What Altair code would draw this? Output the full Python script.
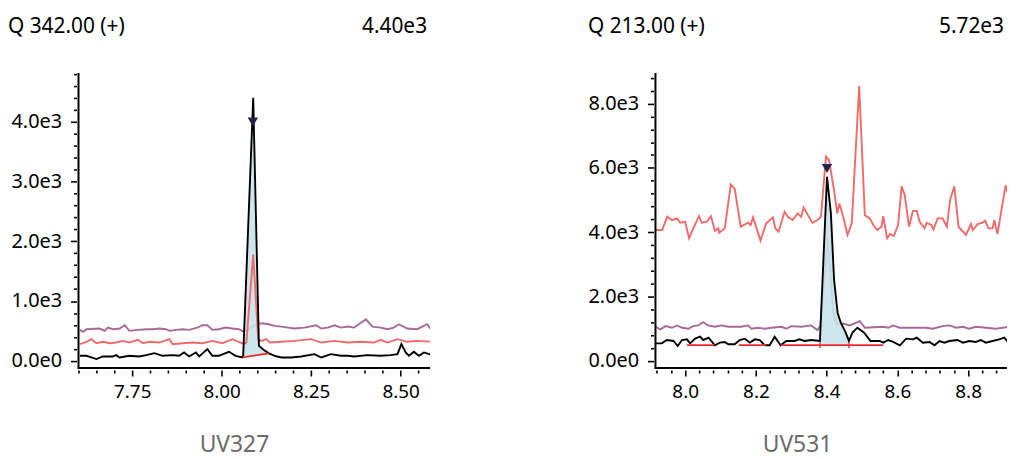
import altair as alt
import pandas as pd
import numpy as np

FONT = "Noto Sans"
W, H = 354, 297

# ---------------- Left panel (UV327) ----------------
L_title = "Q 342.00 (+)"
L_max = "4.40e3"
L_name = "UV327"
L_purple = [(7.604,518),(7.613,484),(7.622,529),(7.659,540),(7.673,501),(7.682,556),(7.696,529),
            (7.715,540),(7.729,595),(7.742,501),(7.766,518),(7.789,529),(7.807,529),(7.826,540),
            (7.844,529),(7.854,501),(7.872,518),(7.891,529),(7.909,518),(7.932,556),(7.946,595),
            (7.960,595),(7.974,518),(7.992,529),(8.011,556),(8.030,540),(8.048,529),(8.062,484),
            (8.080,560),(8.100,610),(8.111,629),(8.130,612),(8.148,584),(8.167,573),(8.185,556),
            (8.204,540),(8.231,556),(8.264,595),(8.278,540),(8.296,556),(8.315,595),(8.333,556),
            (8.352,573),(8.370,556),(8.403,695),(8.421,573),(8.444,556),(8.463,529),(8.481,556),
            (8.495,612),(8.518,540),(8.546,529),(8.574,612),(8.588,501)]
L_red = [(7.604,279),(7.622,318),(7.636,362),(7.650,295),(7.668,318),(7.687,295),(7.705,306),
         (7.724,334),(7.742,306),(7.766,351),(7.780,295),(7.798,318),(7.826,306),(7.854,362),
         (7.863,279),(7.891,295),(7.918,306),(7.946,295),(7.974,334),(8.002,295),(8.030,362),
         (8.048,318),(8.062,279),(8.069,306),(8.088,1778),(8.102,362),(8.111,334),(8.125,362),
         (8.134,306),(8.167,318),(8.204,334),(8.250,362),(8.278,306),(8.315,334),(8.352,306),
         (8.389,318),(8.426,306),(8.444,351),(8.463,306),(8.491,362),(8.518,318),(8.546,334),
         (8.592,318)]
L_black = [(7.604,84),(7.622,84),(7.636,56),(7.650,29),(7.668,73),(7.696,73),(7.705,95),(7.715,56),
           (7.742,84),(7.770,73),(7.789,95),(7.812,129),(7.835,84),(7.863,95),(7.881,84),(7.895,140),
           (7.909,73),(7.928,140),(7.937,73),(7.960,195),(7.974,84),(7.992,84),(8.020,151),(8.039,84),
           (8.057,56),(8.060,83),(8.088,4400),(8.104,250),(8.118,180),(8.132,125),(8.148,84),
           (8.167,56),(8.194,56),(8.222,73),(8.259,112),(8.278,56),(8.305,112),(8.333,84),(8.352,84),
           (8.370,73),(8.407,95),(8.444,84),(8.472,95),(8.491,112),(8.502,279),(8.514,140),(8.523,84),
           (8.537,151),(8.551,84),(8.565,140),(8.588,95)]
L_baseline = [(8.058, 57, 8.132, 125)]
L_junctions = []
L_marker = [(8.087, 3995)]
L_xdom = [7.600, 8.582]
L_ydom = [-121, 4812]
L_xticks = [round(7.60 + 0.05 * i, 2) for i in range(20)]
L_yticks = [200 * i for i in range(25)]

# ---------------- Right panel (UV531) ----------------
R_title = "Q 213.00 (+)"
R_max = "5.72e3"
R_name = "UV531"
R_purple = [(7.916,1059),(7.930,977),(7.944,1080),(7.963,1029),(7.977,1101),(7.991,1029),(8.009,998),
            (8.023,1080),(8.037,1101),(8.051,1204),(8.065,1101),(8.084,1059),(8.103,1101),(8.122,1059),
            (8.159,1059),(8.178,1101),(8.187,998),(8.206,1029),(8.225,998),(8.243,1029),(8.272,1059),
            (8.286,998),(8.300,1080),(8.328,1059),(8.356,1101),(8.374,956),(8.382,1080),(8.403,3800),
            (8.419,1500),(8.429,1132),(8.438,1183),(8.466,1101),(8.494,1235),(8.508,1029),(8.560,1059),
            (8.574,1029),(8.588,1101),(8.607,1029),(8.682,1029),(8.700,998),(8.728,1080),(8.747,1101),
            (8.766,1029),(8.785,1059),(8.803,998),(8.822,1059),(8.850,1029),(8.878,998),(8.916,1059)]
R_red = [(7.916,4068),(7.935,4068),(7.949,4479),(7.963,4377),(7.977,4430),(7.986,4294),(8.000,4325),
         (8.011,3812),(8.023,4120),(8.039,4500),(8.047,4294),(8.061,4325),(8.073,4500),(8.084,4047),
         (8.094,4120),(8.096,3985),(8.112,4120),(8.129,5489),(8.140,5356),(8.157,4170),(8.178,4294),
         (8.185,4223),(8.192,4460),(8.213,3738),(8.229,4275),(8.248,4460),(8.255,4120),(8.264,4016),
         (8.281,4634),(8.290,4479),(8.304,4377),(8.318,4584),(8.328,4479),(8.335,4769),(8.354,4399),
         (8.360,4294),(8.374,4377),(8.384,4479),(8.398,6354),(8.407,6230),(8.421,5304),(8.430,4584),
         (8.436,4893),(8.448,4430),(8.459,3914),(8.471,4275),(8.492,8547),(8.508,4532),(8.522,4430),
         (8.532,4223),(8.543,4068),(8.555,4170),(8.560,4500),(8.571,3812),(8.579,3945),(8.590,3883),
         (8.602,4223),(8.612,5427),(8.621,5149),(8.633,4170),(8.644,4665),(8.655,4665),(8.663,4325),
         (8.677,4120),(8.683,4294),(8.696,4223),(8.702,4089),(8.714,4430),(8.728,4430),(8.740,4170),
         (8.749,4995),(8.761,5427),(8.773,4170),(8.794,3914),(8.808,4254),(8.813,4068),(8.827,4254),
         (8.841,4294),(8.848,4356),(8.858,4120),(8.869,4120),(8.874,4377),(8.883,3945),(8.906,5458),
         (8.916,5047)]
R_black = [(7.916,544),(7.934,544),(7.948,647),(7.967,617),(7.979,462),(7.991,647),(8.005,668),
           (8.014,544),(8.028,689),(8.042,750),(8.051,647),(8.066,720),(8.084,483),(8.098,565),
           (8.112,586),(8.122,514),(8.140,514),(8.154,647),(8.169,689),(8.183,565),(8.197,668),
           (8.211,647),(8.225,483),(8.239,483),(8.253,750),(8.270,483),(8.286,617),(8.309,617),
           (8.323,668),(8.337,617),(8.356,647),(8.381,617),(8.401,5720),(8.412,4584),(8.421,2524),
           (8.431,1495),(8.440,1186),(8.454,877),(8.463,618),(8.473,877),(8.487,1032),(8.506,877),
           (8.524,618),(8.550,617),(8.560,565),(8.574,647),(8.588,586),(8.607,483),(8.625,689),
           (8.644,668),(8.655,720),(8.672,565),(8.691,586),(8.705,483),(8.719,617),(8.733,565),
           (8.747,617),(8.770,647),(8.785,565),(8.803,617),(8.822,586),(8.836,647),(8.850,565),
           (8.869,617),(8.888,668),(8.902,720),(8.916,544)]
R_baseline = [(8.005,485,8.082,485),(8.152,485,8.229,485),(8.270,485,8.381,485),
              (8.381,485,8.463,485),(8.463,485,8.560,485)]
R_junctions = [(8.381,485),(8.463,485)]
R_marker = [(8.401, 5983)]
R_xdom = [7.916, 8.910]
R_ydom = [-225, 8948]
R_xticks = [round(7.92 + 0.04 * i, 2) for i in range(25)]
R_yticks = [400 * i for i in range(23)]

C_PURPLE = "#a7699a"
C_RED = "#f06a6a"
C_BASE = "#ee2b2b"
C_FILL = "#c8e2ea"
C_MARK = "#23234f"


def xy(pairs):
    return pd.DataFrame(pairs, columns=["x", "y"])


def fill_frame(black, base, x0, x1):
    b = xy(black)
    pts = b[(b.x >= x0) & (b.x <= x1)].x.tolist()
    xs = sorted(set([x0, x1] + pts))
    top = np.interp(xs, b.x, b.y)
    bx, by = [], []
    for s in base:
        bx += [s[0], s[2]]
        by += [s[1], s[3]]
    bot = np.interp(xs, bx, by)
    return pd.DataFrame({"x": xs, "y": top, "y2": bot})


def cond(step):
    return f"abs(datum.value/{step} - round(datum.value/{step})) < 1e-6"


def panel(purple, red, black, base, junctions, marker, fill_rng, xdom, ydom, xticks, yticks,
          xmaj, ymaj, xfmt, title, tmax, name, title_x, name_x, anchor):
    xaxis = alt.Axis(values=xticks, title=None, grid=False, domain=False, offset=2,
                     tickColor="black", tickWidth=1.6,
                     tickSize={"condition": {"test": cond(xmaj), "value": 6}, "value": 3},
                     labelExpr=f"{cond(xmaj)} ? format(datum.value, '{xfmt}') : ''",
                     labelFont=FONT, labelFontSize=19, labelColor="black", labelPadding=7,
                     labelOverlap=False, labelFlush=False)
    yaxis = alt.Axis(values=yticks, title=None, grid=False, domain=False, offset=2,
                     tickColor="black", tickWidth=1.6,
                     tickSize={"condition": {"test": cond(ymaj), "value": 6}, "value": 3},
                     labelExpr=f"{cond(ymaj)} ? replace(format(datum.value, '.1e'), '+', '') : ''",
                     labelFont=FONT, labelFontSize=20, labelColor="black", labelPadding=9,
                     labelOverlap=False, labelFlush=False)
    X = alt.X("x:Q", scale=alt.Scale(domain=xdom, nice=False, zero=False), axis=xaxis)
    Y = alt.Y("y:Q", scale=alt.Scale(domain=ydom, nice=False, zero=False), axis=yaxis)

    fdf = fill_frame(black, base, fill_rng[0], fill_rng[1])
    fill = alt.Chart(fdf).mark_area(color=C_FILL, opacity=0.9, clip=True).encode(
        x=X, y=Y, y2="y2:Q")
    lp = alt.Chart(xy(purple)).mark_line(color=C_PURPLE, strokeWidth=1.9, clip=True).encode(x=X, y=Y)
    lr = alt.Chart(xy(red)).mark_line(color=C_RED, strokeWidth=1.9, clip=True).encode(x=X, y=Y)
    lb = alt.Chart(xy(black)).mark_line(color="black", strokeWidth=1.9, clip=True).encode(x=X, y=Y)
    bdf = pd.DataFrame(base, columns=["x", "y", "x2", "y2"])
    bl = alt.Chart(bdf).mark_rule(color=C_BASE, strokeWidth=1.8, clip=True).encode(
        x=X, y=Y, x2="x2:Q", y2="y2:Q")
    mk = alt.Chart(xy(marker)).mark_point(shape="triangle-down", filled=True, size=110,
                                          color=C_MARK, opacity=1).encode(x=X, y=Y)
    layers = [lp, fill, lr, lb, bl, mk]
    if junctions:
        jt = alt.Chart(xy(junctions)).mark_tick(color=C_BASE, orient="vertical", size=6,
                                                 thickness=2).encode(x=X, y=Y)
        layers.append(jt)

    one = pd.DataFrame({"a": [0]})
    yline = alt.Chart(one).mark_rule(color="black", strokeWidth=2).encode(
        x=alt.value(0), y=alt.value(0), y2=alt.value(H + 1))
    xline = alt.Chart(one).mark_rule(color="black", strokeWidth=2).encode(
        x=alt.value(0), x2=alt.value(W), y=alt.value(H))
    t1 = alt.Chart(pd.DataFrame({"t": [title]})).mark_text(
        align="left", baseline="alphabetic", font=FONT, fontSize=21, color="black").encode(
        text="t:N", x=alt.value(title_x), y=alt.value(-40))
    t2 = alt.Chart(pd.DataFrame({"t": [tmax]})).mark_text(
        align="right", baseline="alphabetic", font=FONT, fontSize=21, color="black").encode(
        text="t:N", x=alt.value(W - 3), y=alt.value(-40))
    t3 = alt.Chart(pd.DataFrame({"t": [name]})).mark_text(
        align="center", baseline="alphabetic", font=FONT, fontSize=23, color="#6b6b6b").encode(
        text="t:N", x=alt.value(name_x), y=alt.value(382))
    layers += [yline, xline, t1, t2, t3]
    if anchor:
        an = alt.Chart(one).mark_rule(strokeOpacity=0, color="white").encode(
            x=alt.value(-71), y=alt.value(-64), y2=alt.value(-60))
        layers.append(an)
    return alt.layer(*layers).properties(width=W, height=H)


left = panel(L_purple, L_red, L_black, L_baseline, L_junctions, L_marker, (8.058, 8.132),
             L_xdom, L_ydom, L_xticks, L_yticks, 0.25, 1000, ".2f",
             L_title, L_max, L_name, -71, 157, True)
right = panel(R_purple, R_red, R_black, R_baseline, R_junctions, R_marker, (8.381, 8.463),
              R_xdom, R_ydom, R_xticks, R_yticks, 0.2, 2000, ".1f",
              R_title, R_max, R_name, -68, 143, False)

chart = alt.HConcatChart(hconcat=[left, right], spacing=227, bounds="flush", padding=0).configure_view(
    stroke=None)

chart.save("out.html", embed_options={"renderer": "svg", "actions": False})
